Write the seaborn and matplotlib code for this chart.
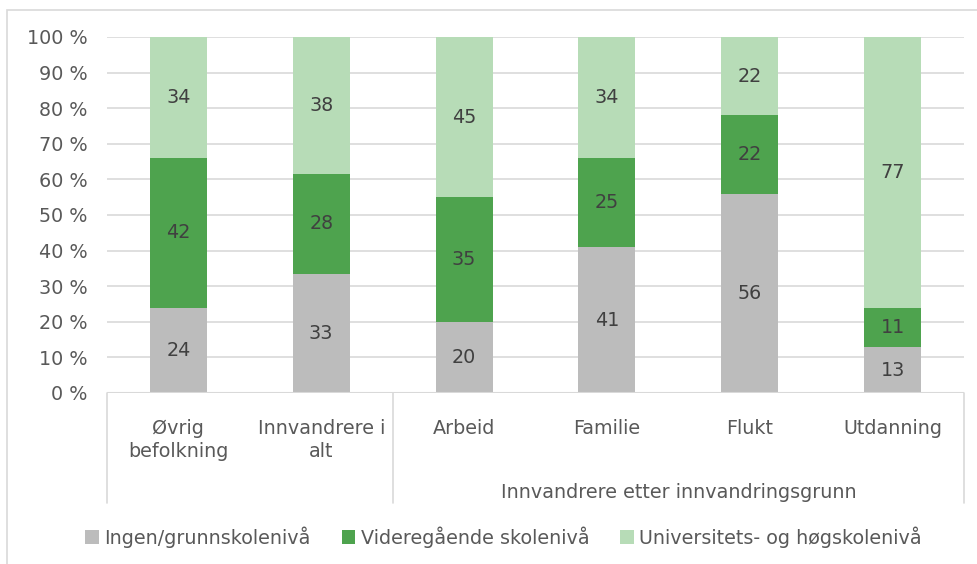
import numpy as np
import pandas as pd
import matplotlib.pyplot as plt
import seaborn as sns
from matplotlib.patches import Rectangle, Patch
from matplotlib.lines import Line2D

# -----------------------------
# Data
# -----------------------------
categories = ["Øvrig\nbefolkning", "Innvandrere i\nalt", "Arbeid", "Familie", "Flukt", "Utdanning"]
ingen = [24, 33, 20, 41, 56, 13]
videregaende = [42, 28, 35, 25, 22, 11]
universitet = [34, 38, 45, 34, 22, 77]
series_names = ["Ingen/grunnskolenivå", "Videregående skolenivå", "Universitets- og høgskolenivå"]
group_label = "Innvandrere etter innvandringsgrunn"
yticks = [0, 10, 20, 30, 40, 50, 60, 70, 80, 90, 100]

colors = ["#bcbcbc", "#4ea34e", "#b7dcb7"]
txt = "#595959"
lab = "#404040"
fs = 13.8

# 100 % stacked: normalise each bar
raw = np.array([ingen, videregaende, universitet], dtype=float)
share = raw / raw.sum(axis=0) * 100
cum = np.cumsum(share, axis=0)

df = pd.DataFrame({
    "kategori": categories,
    "s1": cum[0],
    "s2": cum[1],
    "s3": cum[2],
})

sns.set_style("white")
plt.rcParams["font.family"] = ["DejaVu Sans"]

fig = plt.figure(figsize=(9.78, 5.64), dpi=100)
W, H = 978, 564
ax = fig.add_axes([107 / W, 1 - 393 / H, (964 - 107) / W, (393 - 37) / H])

# stacked bars drawn from the top total down
for col, c in zip(["s3", "s2", "s1"], colors[::-1]):
    sns.barplot(data=df, x="kategori", y=col, color=c, width=0.4,
                saturation=1, linewidth=0, ax=ax, zorder=3)

ax.set_ylim(0, 100)
ax.set_xlim(-0.5, len(categories) - 0.5)
ax.set_yticks(yticks)
ax.set_yticklabels([f"{v} %" for v in yticks], fontsize=fs, color=txt)
ax.tick_params(axis="y", length=0, pad=14)
ax.tick_params(axis="x", length=0)
ax.set_xticklabels([])
ax.set_xlabel("")
ax.set_ylabel("")
ax.yaxis.grid(True, color="#d9d9d9", linewidth=1.2, zorder=0)
ax.set_axisbelow(True)
for s in ax.spines.values():
    s.set_visible(False)
ax.axhline(0, color="#d9d9d9", linewidth=1.5, zorder=4)

# data labels
for i in range(len(categories)):
    bottom = 0
    for k in range(3):
        ax.text(i, bottom + share[k, i] / 2, f"{raw[k, i]:.0f}", ha="center", va="center",
                fontsize=fs, color=lab, zorder=5)
        bottom += share[k, i]

# category labels and grouping lines
trans = ax.get_xaxis_transform()
for i, name in enumerate(categories):
    ax.text(i, -0.072, name, transform=trans, ha="center", va="top",
            fontsize=fs, color=txt, linespacing=1.3)
ybot = -(503 - 393) / (393 - 37)
for xv in [-0.5, 1.5, len(categories) - 0.5]:
    ax.add_line(Line2D([xv, xv], [0, ybot], transform=trans, color="#d9d9d9",
                       linewidth=1.2, clip_on=False))
ax.text(3.5, -(492 - 393) / (393 - 37), group_label, transform=trans, ha="center",
        va="center", fontsize=fs, color=txt)

# legend
handles = [Patch(facecolor=c, edgecolor="none") for c in colors]
fig.legend(handles, series_names, loc="center", bbox_to_anchor=(0.515, 1 - 537 / H),
           ncol=3, frameon=False, fontsize=fs, labelcolor=txt,
           handlelength=0.7, handleheight=0.7, handletextpad=0.3, columnspacing=1.6)

# outer chart border
fig.patches.append(Rectangle((7 / W, -0.01), 1.0, 1 - 10 / H + 0.01, transform=fig.transFigure,
                             fill=False, edgecolor="#d9d9d9", linewidth=1.2))

fig.savefig("out.png", dpi=100)
